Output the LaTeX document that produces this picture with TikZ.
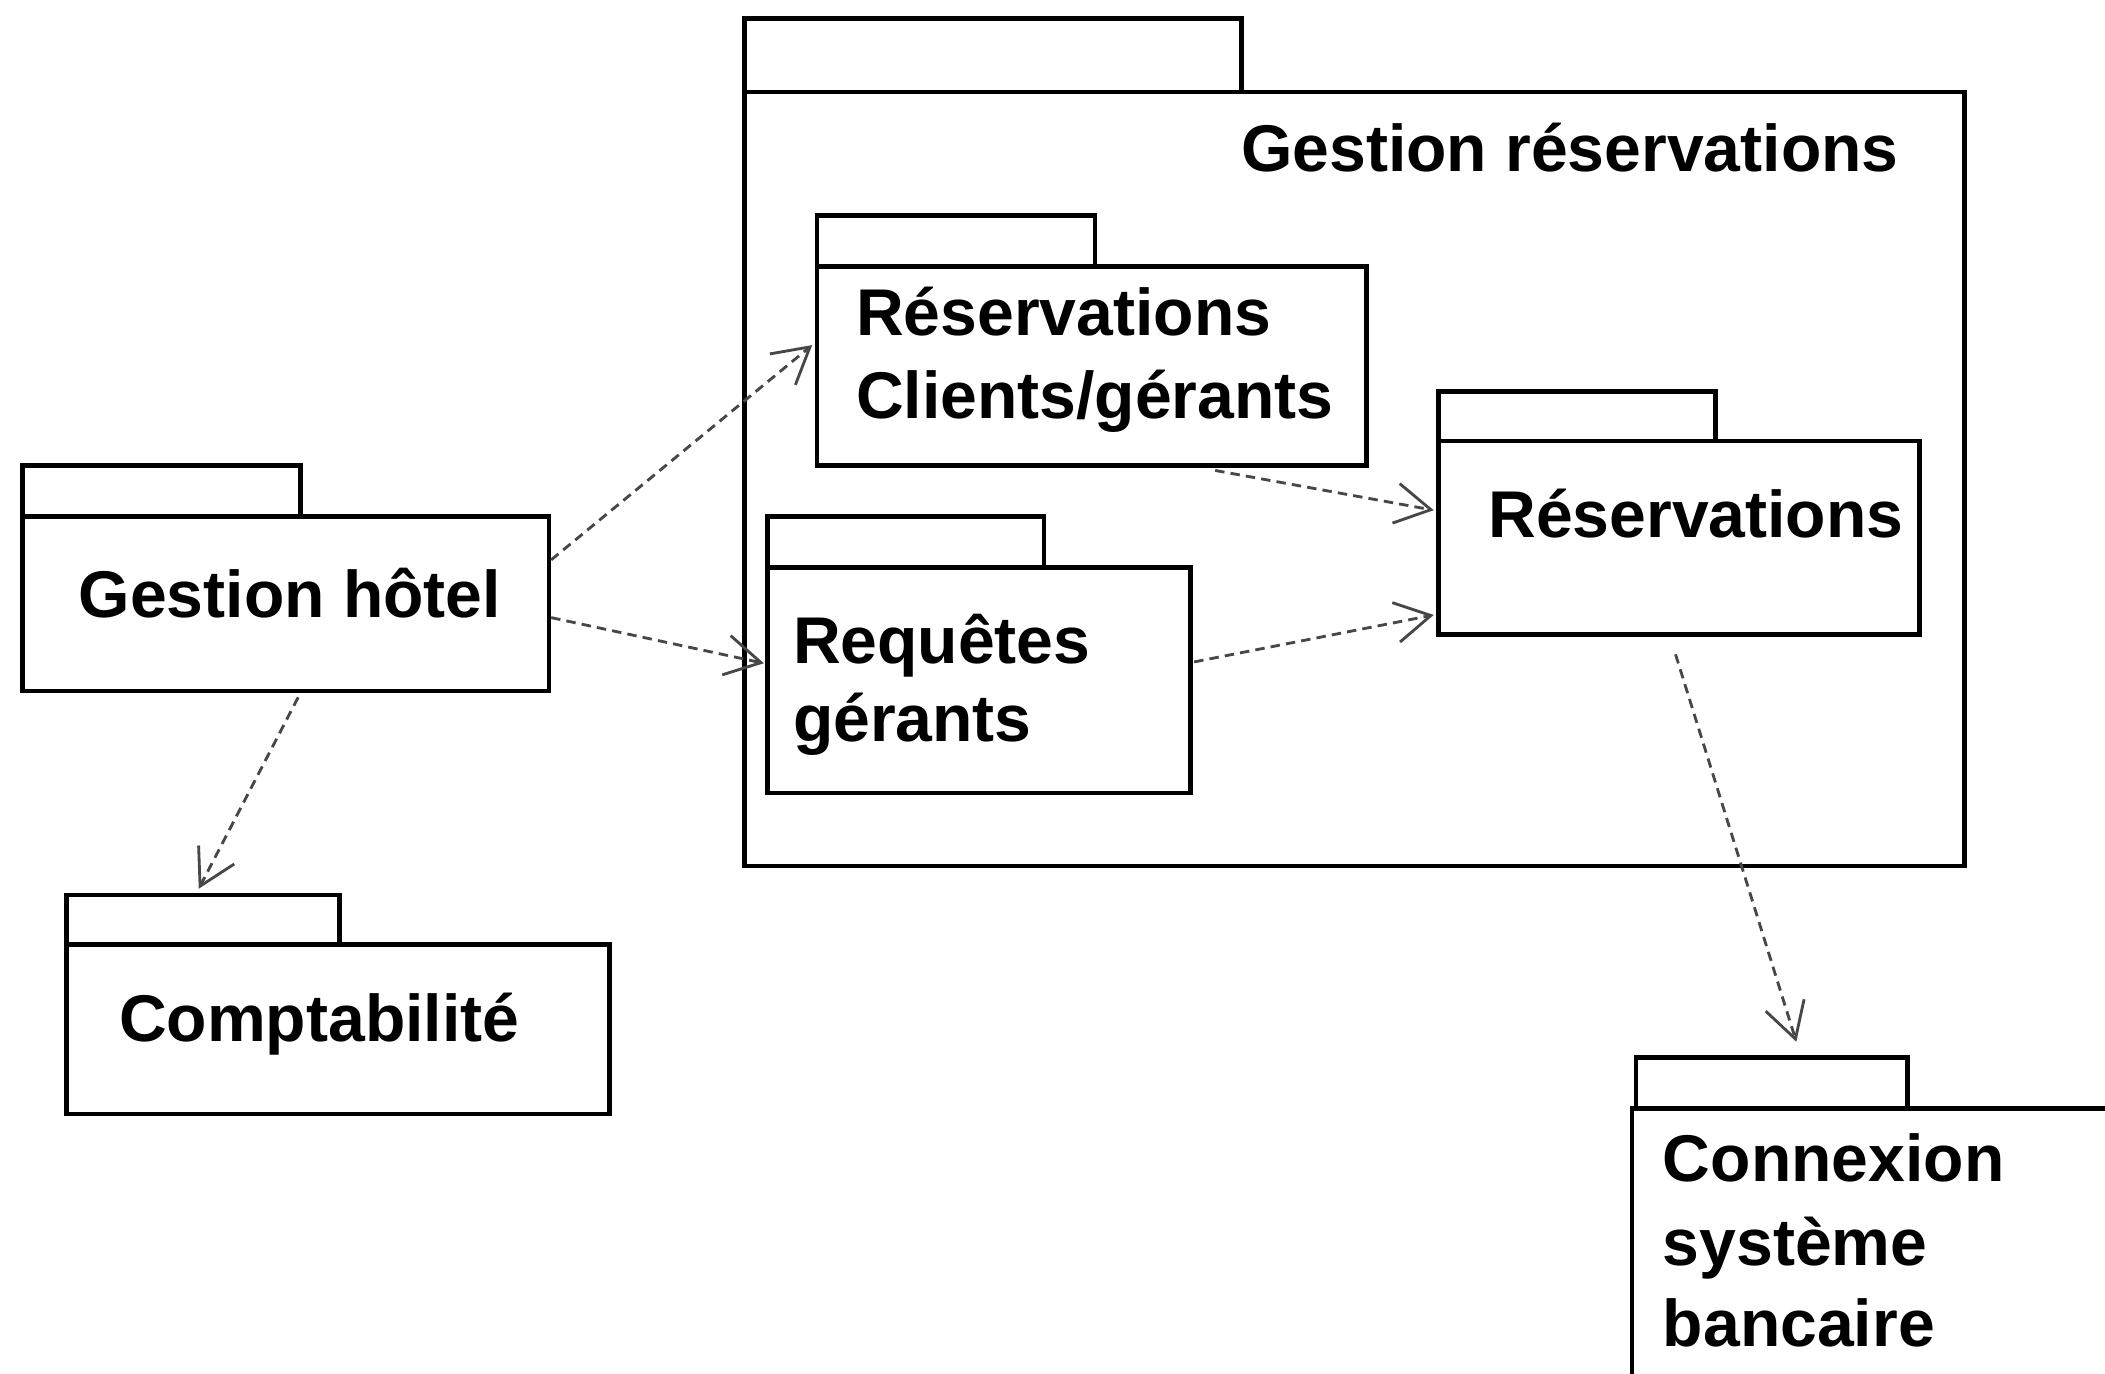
\documentclass[tikz,border=0pt]{standalone}
\usepackage{fontspec}
\setmainfont{Liberation Sans}
\usetikzlibrary{arrows.meta}
\begin{document}
\begin{tikzpicture}[x=0.01cm,y=-0.01cm,
  pkg/.style={draw=black, line width=0.95pt, fill=white, rectangle, inner sep=0pt, anchor=north west},
  lbl/.style={font=\fontsize{14}{17}\selectfont\bfseries, inner sep=0pt, anchor=base west},
  lblr/.style={lbl, anchor=base east},
  dep/.style={draw=black!72, line width=0.6pt, dash pattern=on 2pt off 1.3pt, -{Straight Barb[length=7.5pt,width=8.5pt]}}]
\clip (0,0) rectangle (1568,1023);
\fill[white] (0,0) rectangle (1568,1023);
% Gestion reservations (outer)
\node[pkg, minimum width=3.70cm, minimum height=0.55cm] (grt) at (553,12) {};
\node[pkg, minimum width=9.08cm, minimum height=5.76cm] (gr) at (553,67) {};
\node[lblr] (grl) at (1415,128) {Gestion réservations};
% Reservations Clients/gerants
\node[pkg, minimum width=2.07cm, minimum height=0.38cm] (rct) at (607,159) {};
\node[pkg, minimum width=4.09cm, minimum height=1.48cm] (rc) at (607,197) {};
\node[lbl] (rcl1) at (637,250) {Réservations};
\node[lbl] (rcl2) at (637,312) {Clients/gérants};
% Requetes gerants
\node[pkg, minimum width=2.06cm, minimum height=0.38cm] (rqt) at (570,383) {};
\node[pkg, minimum width=3.15cm, minimum height=1.68cm] (rq) at (570,421) {};
\node[lbl] (rql1) at (590,494) {Requêtes};
\node[lbl] (rql2) at (590,552) {gérants};
% Reservations
\node[pkg, minimum width=2.06cm, minimum height=0.37cm] (rst) at (1070,290) {};
\node[pkg, minimum width=3.58cm, minimum height=1.44cm] (rs) at (1070,327) {};
\node[lbl] (rsl) at (1108,400) {Réservations};
% Gestion hotel
\node[pkg, minimum width=2.07cm, minimum height=0.38cm] (ght) at (15,345) {};
\node[pkg, minimum width=3.92cm, minimum height=1.30cm] (gh) at (15,383) {};
\node[lbl] (ghl) at (58,460) {Gestion hôtel};
% Comptabilite
\node[pkg, minimum width=2.03cm, minimum height=0.37cm] (cpt) at (48,665) {};
\node[pkg, minimum width=4.04cm, minimum height=1.26cm] (cp) at (48,702) {};
\node[lbl] (cpl) at (88,776) {Comptabilité};
% Connexion systeme bancaire
\node[pkg, minimum width=2.02cm, minimum height=0.38cm] (cbt) at (1217,786) {};
\node[pkg, minimum width=4.0cm, minimum height=2.5cm] (cb) at (1214,824) {};
\node[lbl] (cbl1) at (1238,880) {Connexion};
\node[lbl] (cbl2) at (1238,943) {système};
\node[lbl] (cbl3) at (1238,1003) {bancaire};
% dependencies
\draw[dep] ([yshift=-0.34cm]gh.north east) -- ([yshift=-0.60cm,xshift=-0.02cm]rc.north west);
\draw[dep] ([yshift=-0.77cm]gh.north east) -- ([yshift=-0.73cm,xshift=-0.01cm]rq.north west);
\draw[dep] ([xshift=2.07cm,yshift=-0.03cm]gh.south west) -- ([xshift=1.0cm,yshift=0.03cm]cpt.north west);
\draw[dep] ([xshift=2.98cm,yshift=-0.02cm]rc.south west) -- ([yshift=-0.53cm,xshift=-0.02cm]rs.north west);
\draw[dep] ([yshift=-0.72cm,xshift=0.01cm]rq.north east) -- ([yshift=-1.31cm,xshift=-0.02cm]rs.north west);
\draw[dep] ([xshift=1.78cm,yshift=-0.13cm]rs.south west) -- ([xshift=1.21cm,yshift=0.10cm]cbt.north west);
\end{tikzpicture}
\end{document}
